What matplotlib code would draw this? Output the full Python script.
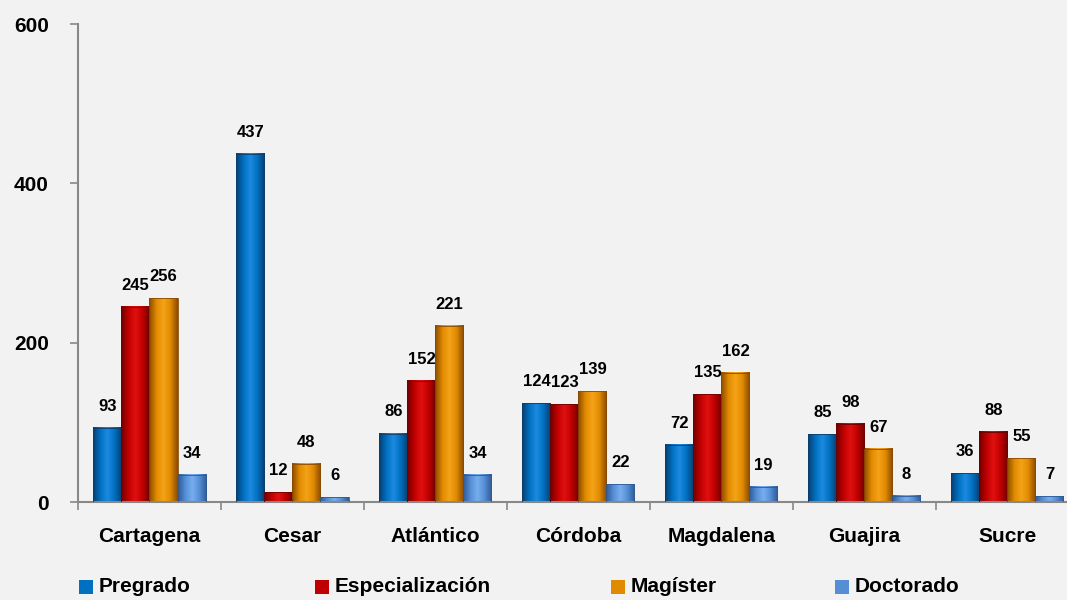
import numpy as np
import matplotlib
matplotlib.use("Agg")
import matplotlib.pyplot as plt
from matplotlib.colors import LinearSegmentedColormap
from matplotlib.patches import Rectangle

plt.rcParams['font.family'] = ['Liberation Sans', 'DejaVu Sans']
plt.rcParams['font.weight'] = 'bold'

regions = ['Cartagena', 'Cesar', 'Atlántico', 'Córdoba', 'Magdalena', 'Guajira', 'Sucre']
series = ['Pregrado', 'Especialización', 'Magíster', 'Doctorado']
pregrado = [93, 437, 86, 124, 72, 85, 36]
especializacion = [245, 12, 152, 123, 135, 98, 88]
magister = [256, 48, 221, 139, 162, 67, 55]
doctorado = [34, 6, 34, 22, 19, 8, 7]
values = [pregrado, especializacion, magister, doctorado]

# (dark edge, base, light center) per series
shades = [
    ('#0a3d6e', '#0070C0', '#1c8ae0'),
    ('#6e0000', '#C00000', '#e01010'),
    ('#8a4a00', '#E08A00', '#f5a318'),
    ('#2e5a95', '#558ED5', '#78aef0'),
]

bg = '#F2F2F2'
fig = plt.figure(figsize=(10.67, 6), dpi=100, facecolor=bg)
ax = fig.add_axes([0.0731, 0.1633, 0.938, 0.7967], facecolor=bg)

width = 0.196
x = np.arange(len(regions))
grad = np.linspace(0, 1, 64).reshape(1, -1)
for j, (vals, (dark, base, light)) in enumerate(zip(values, shades)):
    cmap = LinearSegmentedColormap.from_list('g%d' % j, [dark, base, light, base, dark])
    for i, v in enumerate(vals):
        left = x[i] - 2 * width + j * width
        ax.imshow(grad, cmap=cmap, aspect='auto', extent=(left, left + width, 0, v),
                  interpolation='bicubic', zorder=2)
        ax.add_patch(Rectangle((left, 0), width, v, fill=False, edgecolor=dark,
                               linewidth=0.6, zorder=3))
        ax.annotate(str(v), (left + width / 2, v), xytext=(0, 15.5), textcoords='offset points',
                    ha='center', va='center', fontsize=12, fontweight='bold')

ax.set_xlim(-0.5, len(regions) - 0.5)
ax.set_ylim(0, 600)
ax.set_yticks([0, 200, 400, 600])
ax.set_yticklabels(['0', '200', '400', '600'], fontsize=15, fontweight='bold')
ax.set_xticks(x)
ax.set_xticklabels(regions, fontsize=15, fontweight='bold')
ax.tick_params(axis='x', length=0, pad=18)
ax.set_xticks(np.arange(len(regions) + 1) - 0.5, minor=True)
ax.tick_params(axis='x', which='minor', length=6, color='#888888', width=1.2, direction='out')
ax.tick_params(axis='y', length=6, color='#888888', width=1.2, pad=15)

for s in ['top', 'right']:
    ax.spines[s].set_visible(False)
for s in ['left', 'bottom']:
    ax.spines[s].set_color('#888888')
    ax.spines[s].set_linewidth(1.5)

# legend along the bottom
legend_colors = [sh[1] for sh in shades]
leg_x = [0.074, 0.2952, 0.5726, 0.7826]
for color, name, lx in zip(legend_colors, series, leg_x):
    fig.patches.append(Rectangle((lx, 0.010), 0.0131, 0.0233, facecolor=color,
                                 transform=fig.transFigure, figure=fig))
    fig.text(lx + 0.0188, 0.022, name, fontsize=15, fontweight='bold', va='center', ha='left')

fig.savefig('out.png', dpi=100, facecolor=bg)
